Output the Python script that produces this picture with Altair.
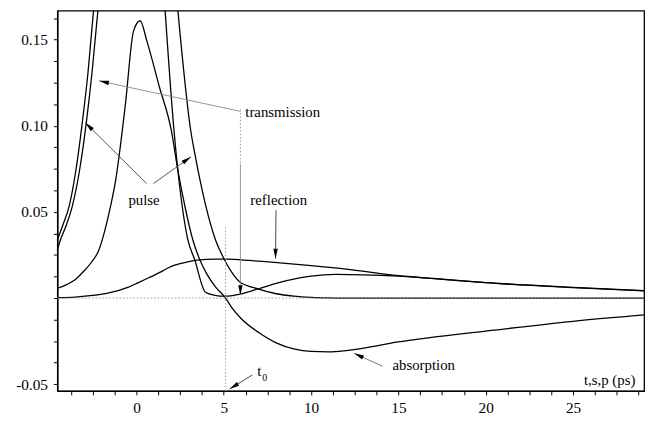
import math
import altair as alt
import pandas as pd

# ---------------- data ----------------
X_DOMAIN = [-4.53, 29.07]
Y_DOMAIN = [-0.0539, 0.1669]
W, H = 594, 385

pulse_left_t = [-4.53, -4.21, -3.84, -3.47, -3.09, -2.77, -2.46]
pulse_left_v = [0.0339, 0.0426, 0.054, 0.0742, 0.103, 0.1317, 0.1669]
pulse_right_t = [2.37, 3.11, 3.36, 4.52, 5.03, 5.45, 5.9, 7.0, 8.0, 9.0, 10.0, 11.0, 12.0, 20.0, 29.07]
pulse_right_v = [0.1669, 0.097, 0.0828, 0.0339, 0.0224, 0.015, 0.0095, 0.0052, 0.0025, 0.0011, 0.0004, 0.0001, 0.0, 0.0, 0.0]

trans_left_t = [-4.53, -4.35, -4.01, -3.66, -3.26, -2.86, -2.54, -2.21]
trans_left_v = [0.0282, 0.0339, 0.0426, 0.054, 0.0742, 0.103, 0.1317, 0.1669]
trans_right_t = [1.64, 2.15, 2.37, 2.94, 3.33, 3.95, 4.5, 5.0, 5.5, 6.0, 6.6, 7.0, 8.0, 9.0,
                 10.0, 11.4, 13.0, 15.0, 17.0, 20.0, 25.0, 29.07]
trans_right_v = [0.1669, 0.097, 0.0742, 0.0339, 0.0224, 0.0034, 0.0016, 0.0011, 0.0014, 0.0024, 0.0042,
                 0.0054, 0.0085, 0.011, 0.0127, 0.0137, 0.0135, 0.0127, 0.0113, 0.0089, 0.0061, 0.0042]

absorb_t = [-4.53, -4.0, -3.5, -3.09, -2.6, -2.15, -1.9, -1.58, -1.2, -0.64, -0.17, 0.21, 0.6, 1.3,
            2.0, 2.37, 2.8, 3.22, 3.62, 4.0, 4.5, 5.1, 5.5, 6.0, 7.0, 8.0, 9.0, 10.0, 11.0, 12.0,
            15.0, 20.0, 25.0, 29.07]
absorb_v = [0.0057, 0.0078, 0.0108, 0.0148, 0.0205, 0.028, 0.036, 0.049, 0.068, 0.112, 0.155, 0.161,
            0.149, 0.123, 0.097, 0.0742, 0.052, 0.034, 0.0224, 0.0145, 0.0068, 0.0, -0.0062, -0.012,
            -0.020, -0.026, -0.0295, -0.031, -0.0312, -0.0305, -0.0255, -0.0192, -0.0135, -0.0098]

refl_t = [-4.53, -3.5, -2.5, -1.58, -0.5, 0.11, 0.7, 1.0, 1.5, 2.0, 2.5, 3.0, 3.5, 4.5, 5.2, 6.0,
          7.0, 7.9, 10.0, 12.0, 15.0, 17.0, 20.0, 25.0, 29.07]
refl_v = [0.0002, 0.0006, 0.0015, 0.003, 0.0062, 0.009, 0.0118, 0.0132, 0.0158, 0.0184, 0.0200,
          0.0212, 0.022, 0.0226, 0.0226, 0.0222, 0.0214, 0.0207, 0.0188, 0.0168, 0.0130, 0.0114,
          0.009, 0.0062, 0.0043]

# annotation arrows: (name, t_from, v_from, t_tip, v_tip, color)
arrows = [
    ("trans_diag", 5.95, 0.1084, -2.14, 0.1261, "#888888"),
    ("trans_vert", 5.95, 0.0780, 5.95, 0.0017, "#888888"),
    ("pulse_left", 0.58, 0.0665, -2.93, 0.1018, "#444444"),
    ("pulse_right", 0.97, 0.0665, 3.12, 0.0820, "#444444"),
    ("refl", 7.99, 0.0510, 7.96, 0.0229, "#333333"),
    ("absorb", 14.09, -0.0396, 12.46, -0.0321, "#666666"),
    ("t0", 6.63, -0.0447, 5.33, -0.0528, "#333333"),
]
# dotted guide lines: (t1, v1, t2, v2)
dotted = [
    (X_DOMAIN[0], 0.0, X_DOMAIN[1], 0.0),
    (5.10, Y_DOMAIN[0], 5.10, 0.0425),
    (5.95, 0.1095, 5.95, 0.0780),
]
labels = [
    ("transmission", 6.23, 0.1078, 15, "left"),
    ("pulse", 0.43, 0.0568, 15, "center"),
    ("reflection", 6.52, 0.0568, 15, "left"),
    ("absorption", 14.66, -0.0390, 15, "left"),
    ("t,s,p (ps)", 28.57, -0.0476, 15, "right"),
    ("t", 6.92, -0.0424, 15, "left"),
    ("0", 7.20, -0.0466, 10, "left"),
]

X_TICKS = [round(-3.75 + 1.25 * i, 4) for i in range(27)]
Y_TICKS = [round(-0.05 + 0.0125 * i, 5) for i in range(18)]

# ---------------- build tables ----------------
rows = []
order = 0
for seg, ts, vs in [("pl", pulse_left_t, pulse_left_v), ("pr", pulse_right_t, pulse_right_v),
                    ("tl", trans_left_t, trans_left_v), ("tr", trans_right_t, trans_right_v),
                    ("a", absorb_t, absorb_v), ("r", refl_t, refl_v)]:
    for t, v in zip(ts, vs):
        rows.append({"t": t, "v": v, "seg": seg, "o": order})
        order += 1
curves = pd.DataFrame(rows)

PX_T = W / (X_DOMAIN[1] - X_DOMAIN[0])
PX_V = H / (Y_DOMAIN[1] - Y_DOMAIN[0])
arr_rows = []
for name, t1, v1, t2, v2, col in arrows:
    dx = (t2 - t1) * PX_T
    dy = -(v2 - v1) * PX_V
    ang = math.degrees(math.atan2(dx, -dy)) % 360
    arr_rows.append({"name": name, "t1": t1, "v1": v1, "t2": t2, "v2": v2, "col": col, "ang": ang})
arr = pd.DataFrame(arr_rows)
dot = pd.DataFrame([{"t1": a, "v1": b, "t2": c, "v2": d} for a, b, c, d in dotted])
lab = pd.DataFrame([{"txt": s, "t": t, "v": v, "fs": fs, "al": al} for s, t, v, fs, al in labels])

FONT = "Liberation Serif"

xs = alt.Scale(domain=X_DOMAIN, nice=False, zero=False)
ys = alt.Scale(domain=Y_DOMAIN, nice=False, zero=False)

x_axis = alt.Axis(values=X_TICKS, title=None, grid=False,
                  labelExpr="abs(datum.value % 5) < 1e-6 ? format(datum.value, 'd') : ''",
                  labelFlush=False, labelOverlap=False)
y_axis = alt.Axis(values=Y_TICKS, title=None, grid=False,
                  labelExpr="(abs(datum.value*20 - round(datum.value*20)) < 1e-6 && abs(datum.value) > 1e-9) ? (datum.value < 0 ? '-' + format(-datum.value, '.2f') : format(datum.value, '.2f')) : ''",
                  labelFlush=False, labelOverlap=False)


def X(field):
    return alt.X(field, type="quantitative", scale=xs, axis=x_axis)


def Y(field):
    return alt.Y(field, type="quantitative", scale=ys, axis=y_axis)


base_lines = alt.Chart(curves).mark_line(color="black", strokeWidth=1.3, clip=True,
                                          interpolate="monotone").encode(
    x=X("t"), y=Y("v"), detail="seg:N", order="o:Q",
)

dotted_lines = alt.Chart(dot).mark_rule(color="#9a9a9a", strokeWidth=1, strokeDash=[1.5, 2]).encode(
    x=X("t1"), y=Y("v1"), x2="t2:Q", y2="v2:Q",
)

arrow_lines = alt.Chart(arr).mark_rule(strokeWidth=0.9).encode(
    x=X("t1"), y=Y("v1"), x2="t2:Q", y2="v2:Q",
    color=alt.Color("col:N", scale=None),
)

heads = alt.Chart(arr).mark_point(shape="M0,0L-0.45,2L0.45,2Z", filled=True, size=100,
                                  color="black", opacity=1).encode(
    x=X("t2"), y=Y("v2"),
    angle=alt.Angle("ang:Q", scale=None),
)


def text_layer(df, align):
    return alt.Chart(df).mark_text(font=FONT, align=align, baseline="middle", color="black").encode(
        x=X("t"), y=Y("v"),
        text="txt:N", size=alt.Size("fs:Q", scale=None),
    )


texts = [text_layer(lab[lab["al"] == a], a) for a in ["left", "center", "right"]]

chart = alt.layer(base_lines, dotted_lines, arrow_lines, heads, *texts).properties(
    width=W, height=H,
    background="white",
    autosize=alt.AutoSizeParams(type="none"),
    padding={"left": 50, "top": 0, "right": 10, "bottom": 40},
).configure_view(
    stroke="black", strokeWidth=1.3,
).configure_axis(
    labelFont=FONT, labelFontSize=15.5, labelColor="black",
    domainColor="black", domainWidth=1.3,
    tickColor="black", tickWidth=1, tickSize=4, labelPadding=6,
)

chart.save("out.html", embed_options={"renderer": "svg", "actions": False})
